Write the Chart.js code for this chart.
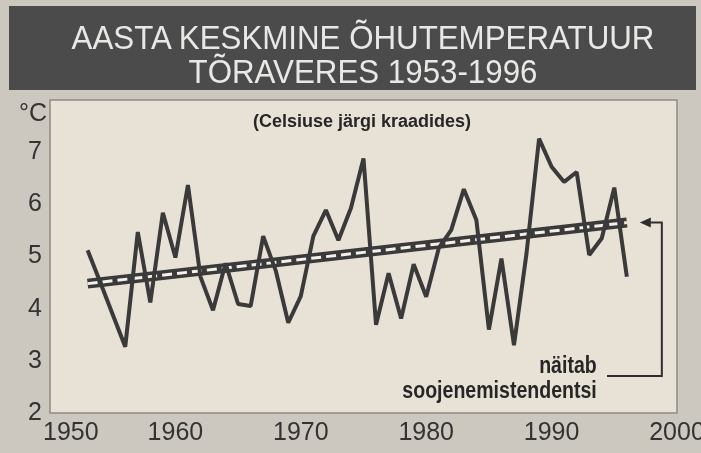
<!DOCTYPE html>
<html>
<head>
<meta charset="utf-8">
<script src="https://cdn.jsdelivr.net/npm/chart.js@4.4.1/dist/chart.umd.min.js"></script>
<style>
  body { margin: 0; background: #ccc8c0; }
  #wrap { position: relative; width: 701px; height: 453px; overflow: hidden; background: #ccc8c0; }
  canvas { position: absolute; left: 0; top: 0; }
  #head { position: absolute; left: 9px; top: 6px; width: 687px; height: 84px; background: #4b4b4b; }
  .t { position: absolute; white-space: nowrap; }
  .title { left: 0; width: 726px; text-align: center; color: #e8e8e6; font-family: "Liberation Sans", Arial, sans-serif; font-size: 34px; line-height: 34px; transform: scaleX(0.92); }
  .note { font-family: "Liberation Sans", Arial, sans-serif; font-weight: bold; color: #262626; }
  .unit { left: 19px; top: 97px; font-family: "Liberation Sans", Arial, sans-serif; font-size: 25px; line-height: 30px; color: #333; }
</style>
</head>
<body>
<div id="wrap">
  <canvas id="myChart" width="701" height="453"></canvas>
  <div id="head"></div>
  <div class="t title" style="top:20px">AASTA KESKMINE ÕHUTEMPERATUUR</div>
  <div class="t title" style="top:54px">TÕRAVERES 1953-1996</div>
  <div class="t unit">°C</div>
  <div class="t note" style="left:253px; top:111px; font-size:18px; line-height:20px;">(Celsiuse järgi kraadides)</div>
  <div class="t note" style="right:104px; top:353px; font-size:23px; line-height:24px; transform:scaleX(0.85); transform-origin:right center;">näitab</div>
  <div class="t note" style="right:104px; top:378px; font-size:23px; line-height:24px; transform:scaleX(0.85); transform-origin:right center;">soojenemistendentsi</div>
</div>
<script>
// aasta keskmine õhutemperatuur, Tõravere
const years = [1953, 1954, 1955, 1956, 1957, 1958, 1959, 1960, 1961, 1962,
  1963, 1964, 1965, 1966, 1967, 1968, 1969, 1970, 1971, 1972,
  1973, 1974, 1975, 1976, 1977, 1978, 1979, 1980, 1981, 1982,
  1983, 1984, 1985, 1986, 1987, 1988, 1989, 1990, 1991, 1992,
  1993, 1994, 1995, 1996];
const temps = [5.12, 4.51, 3.89, 3.27, 5.47, 4.12, 5.84, 4.98, 6.37, 4.61,
  3.97, 4.87, 4.09, 4.05, 5.39, 4.73, 3.73, 4.24, 5.39, 5.89,
  5.31, 5.93, 6.88, 3.69, 4.68, 3.81, 4.85, 4.23, 5.16, 5.51,
  6.29, 5.70, 3.60, 4.96, 3.30, 5.06, 7.26, 6.72, 6.43, 6.62,
  5.03, 5.35, 6.32, 4.61];

// soojenemistendents
const trendYears = [1953, 1996];
const trendTemps = [4.48, 5.65];

const xMin = 1950, xMax = 2000, xStep = 10;
const yMin = 2, yMax = 8;

function points(xs, ys) {
  return xs.map((x, i) => ({x: x, y: ys[i]}));
}

const frame = {
  id: 'frame',
  beforeDraw(chart) {
    const {ctx, chartArea: a} = chart;
    ctx.save();
    ctx.fillStyle = '#e8e2d6';
    ctx.fillRect(a.left, a.top, a.right - a.left, a.bottom - a.top);
    ctx.strokeStyle = '#8e8a83';
    ctx.lineWidth = 1.5;
    ctx.strokeRect(a.left, a.top, a.right - a.left, a.bottom - a.top);
    ctx.restore();
  },
  afterDraw(chart) {
    // arrow pointing to the end of the trend line
    const {ctx, scales} = chart;
    const tipX = scales.x.getPixelForValue(trendYears[1]) + 13;
    const tipY = scales.y.getPixelForValue(trendTemps[1]);
    const edgeX = tipX + 22;
    const lowY = 376;
    ctx.save();
    ctx.strokeStyle = '#2e2e2e';
    ctx.lineWidth = 2;
    ctx.beginPath();
    ctx.moveTo(607, lowY);
    ctx.lineTo(edgeX, lowY);
    ctx.lineTo(edgeX, tipY);
    ctx.lineTo(tipX + 8, tipY);
    ctx.stroke();
    ctx.fillStyle = '#2e2e2e';
    ctx.beginPath();
    ctx.moveTo(tipX, tipY);
    ctx.lineTo(tipX + 11, tipY - 5);
    ctx.lineTo(tipX + 11, tipY + 5);
    ctx.closePath();
    ctx.fill();
    ctx.restore();
  }
};

var chart = document.getElementById("myChart").getContext("2d");
var myChart = new Chart(chart, {
  type: "line",
  data: {
    datasets: [
      {
        data: points(years, temps),
        borderColor: '#3a3a3a',
        borderWidth: 4,
        borderJoinStyle: 'bevel',
        pointRadius: 0,
        tension: 0,
      },
      {
        data: points(trendYears, trendTemps),
        borderColor: '#f4f1ea',
        borderWidth: 3,
        borderDash: [10, 5],
        pointRadius: 0,
      },
      {
        data: points(trendYears, trendTemps),
        borderColor: '#3a3a3a',
        borderWidth: 10,
        borderCapStyle: 'butt',
        pointRadius: 0,
      },
    ],
  },
  options: {
    responsive: false,
    animation: false,
    devicePixelRatio: 1,
    layout: { padding: { top: 100, right: 24, left: 0, bottom: 0 } },
    plugins: {
      legend: { display: false },
      tooltip: { enabled: false },
    },
    scales: {
      x: {
        type: 'linear',
        min: xMin,
        max: xMax,
        grid: { display: false, drawTicks: false },
        border: { display: false },
        ticks: {
          stepSize: xStep,
          padding: 5,
          color: '#333',
          font: { family: 'Liberation Sans', size: 25 },
          // first label sits right of its tick in the original
          callback: (v) => v === xMin ? '\u2007\u2007\u2007' + v : String(v),
        },
        afterFit(s) { s.height = 40; s.paddingLeft = 0; s.paddingRight = 0; },
      },
      y: {
        min: yMin,
        max: yMax,
        grid: { display: false, drawTicks: false },
        border: { display: false },
        ticks: {
          stepSize: 1,
          padding: 8,
          color: '#333',
          font: { family: 'Liberation Sans', size: 25 },
          // the unit label is placed separately, a bit lower
          callback: (v) => v === yMax ? '' : String(v),
        },
        afterFit(s) { s.width = 50; s.paddingTop = 0; s.paddingBottom = 0; },
      },
    },
  },
  plugins: [frame],
});
</script>
</body>
</html>
